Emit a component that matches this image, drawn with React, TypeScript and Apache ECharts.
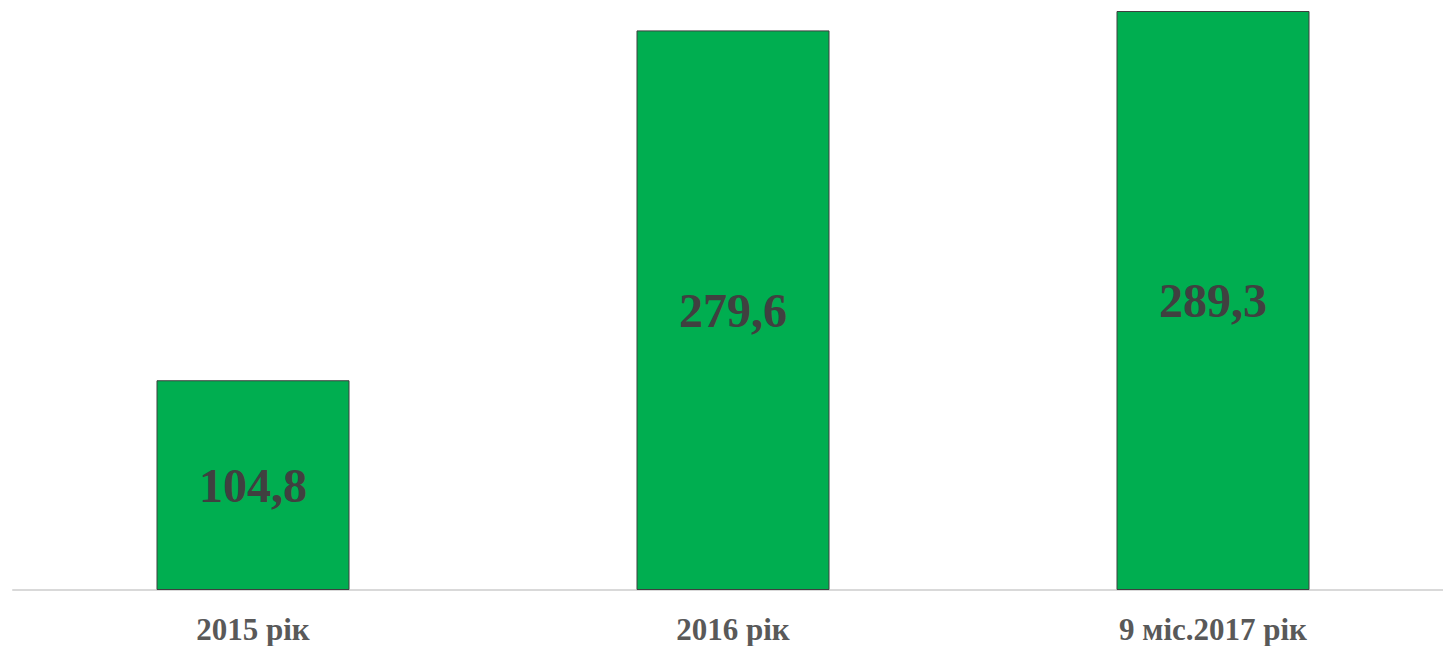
import React, { useEffect, useRef } from "react";
import * as echarts from "echarts";

const categories = ["2015 рік", "2016 рік", "9 міс.2017 рік"];
const values = [104.8, 279.6, 289.3];
const valueLabels = ["104,8", "279,6", "289,3"];

export default function App() {
  const ref = useRef<HTMLDivElement>(null);
  useEffect(() => {
    if (!ref.current) return;
    const chart = echarts.init(ref.current, undefined, { renderer: "svg" });
    chart.setOption({
      animation: false,
      backgroundColor: "#ffffff",
      grid: { left: 13, right: 0, top: 11, bottom: 56, containLabel: false },
      xAxis: {
        type: "category",
        data: categories,
        axisLine: { show: true, lineStyle: { color: "#d9d9d9", width: 2 } },
        axisTick: { show: false },
        axisLabel: {
          color: "#595959",
          fontFamily: "Liberation Serif",
          fontWeight: "bold",
          fontSize: 31,
          lineHeight: 31,
          margin: 24,
        },
      },
      yAxis: {
        type: "value",
        min: 0,
        max: 289.3,
        show: false,
        splitLine: { show: false },
      },
      series: [
        {
          type: "bar",
          data: values,
          barWidth: 193,
          itemStyle: { color: "#00ae50", borderColor: "#3f3f3f", borderWidth: 1 },
          label: {
            show: true,
            position: "inside",
            formatter: (p: any) => valueLabels[p.dataIndex],
            color: "#404040",
            fontFamily: "Liberation Serif",
            fontWeight: "bold",
            fontSize: 48,
          },
        },
      ],
    });
    return () => chart.dispose();
  }, []);
  return (
    <div
      ref={ref}
      style={{ position: "fixed", left: 0, top: 0, width: 1453, height: 646 }}
    />
  );
}
